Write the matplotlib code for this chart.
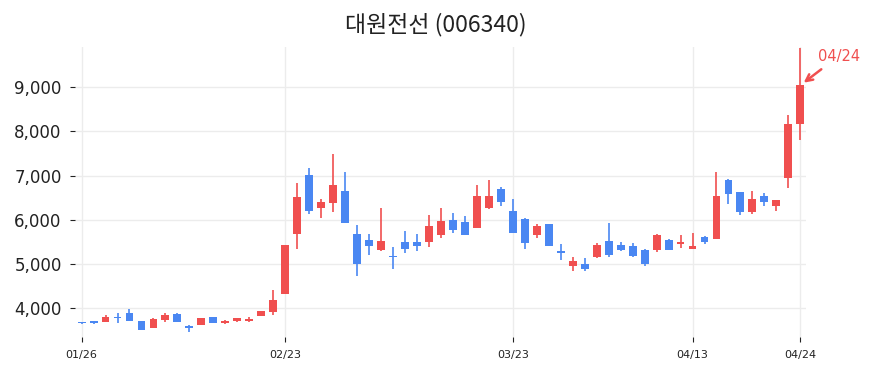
import matplotlib
matplotlib.use("Agg")
import matplotlib.pyplot as plt
import numpy as np

plt.rcParams['font.family'] = ['DejaVu Sans']

title = "대원전선 (006340)"
tick_labels = ['01/26', '02/23', '03/23', '04/13', '04/24']
tick_index = [0, 17, 36, 51, 60]
highlight_label = '04/24'

opens = [3680, 3710, 3690, 3790, 3890, 3710, 3550, 3730, 3880, 3590,
         3620, 3800, 3660, 3710, 3710, 3830, 3920, 4330, 5690, 7020,
         6280, 6380, 6660, 5680, 5550, 5310, 5190, 5510, 5510, 5490,
         5660, 6000, 5960, 5810, 6280, 6710, 6210, 6020, 5650, 5910,
         5290, 4950, 5010, 5170, 5530, 5440, 5410, 5320, 5310, 5550,
         5460, 5330, 5620, 5570, 6910, 6620, 6170, 6530, 6310, 6940,
         8160]
highs = [3685, 3720, 3850, 3900, 3990, 3710, 3780, 3890, 3900, 3620,
         3780, 3800, 3730, 3790, 3800, 3940, 4410, 5440, 6840, 7180,
         6470, 7500, 7090, 5880, 5680, 6270, 5380, 5750, 5680, 6120,
         6280, 6160, 6080, 6780, 6900, 6750, 6470, 6040, 5910, 5910,
         5460, 5160, 5130, 5480, 5930, 5490, 5480, 5350, 5680, 5560,
         5650, 5700, 5630, 7080, 6930, 6640, 6650, 6610, 6460, 8370,
         9880]
lows = [3655, 3650, 3690, 3660, 3710, 3500, 3550, 3700, 3690, 3460,
        3620, 3660, 3640, 3680, 3680, 3820, 3850, 4330, 5340, 6140,
        6040, 6170, 5930, 4720, 5210, 5290, 4890, 5250, 5300, 5380,
        5590, 5700, 5660, 5810, 6250, 6320, 5700, 5350, 5590, 5410,
        5100, 4850, 4850, 5130, 5160, 5300, 5160, 4960, 5270, 5320,
        5360, 5330, 5460, 5570, 6370, 6120, 6140, 6320, 6210, 6720,
        7800]
closes = [3665, 3660, 3810, 3770, 3710, 3500, 3750, 3850, 3690, 3560,
          3770, 3660, 3710, 3770, 3760, 3930, 4190, 5440, 6520, 6190,
          6410, 6800, 5930, 5000, 5420, 5530, 5150, 5350, 5420, 5870,
          5980, 5780, 5660, 6530, 6530, 6400, 5700, 5480, 5870, 5410,
          5260, 5080, 4890, 5440, 5210, 5320, 5190, 5000, 5650, 5320,
          5500, 5410, 5500, 6550, 6590, 6180, 6480, 6410, 6460, 8160,
          9050]

up_color = '#f04f4f'
down_color = '#4a87f2'

fig = plt.figure(figsize=(8.72, 3.73), dpi=100)
ax = fig.add_axes([0.086, 0.0965, 0.838, 0.7775])

x = np.arange(len(opens))
o = np.array(opens); h = np.array(highs); l = np.array(lows); c = np.array(closes)
colors = [up_color if cc >= oo else down_color for oo, cc in zip(o, c)]

ax.vlines(x, l, h, colors=colors, linewidth=1.2, zorder=2)
bottoms = np.minimum(o, c)
heights = np.maximum(np.abs(c - o), 25)
ax.bar(x, heights, bottom=bottoms, width=0.66, color=colors,
       linewidth=0, zorder=3)

ax.set_xlim(-0.55, 60.45)
ax.set_ylim(3350, 9912)
yt = [4000, 5000, 6000, 7000, 8000, 9000]
ax.set_yticks(yt)
ax.set_yticklabels([f"{v:,}" for v in yt])
ax.set_xticks(tick_index)
ax.set_xticklabels(tick_labels)

for s in ax.spines.values():
    s.set_visible(False)
ax.grid(True, color='#ececec', linewidth=1.0, zorder=0)
ax.set_axisbelow(True)
ax.tick_params(axis='y', length=3.6, width=0.8, pad=6, labelsize=12,
               colors='#222222', labelcolor='#222222')
ax.tick_params(axis='x', length=3.6, width=0.8, pad=6, labelsize=8,
               colors='#222222', labelcolor='#222222')

fig.suptitle(title, fontsize=16.5, y=0.965, color='#222222',
             family=['Noto Sans CJK KR', 'DejaVu Sans'], fontweight='light')

# highlight annotation on last candle
last = len(opens) - 1
ax.annotate('', xy=(last + 0.28, 9104), xytext=(last + 1.75, 9408),
            arrowprops=dict(arrowstyle='->', color=up_color, lw=1.8,
                            mutation_scale=12, shrinkA=0, shrinkB=0),
            annotation_clip=False)
ax.text(last + 3.2, 9700, highlight_label, color=up_color, fontsize=10.5,
        ha='center', va='center', clip_on=False)

fig.savefig('out.png', dpi=100)
